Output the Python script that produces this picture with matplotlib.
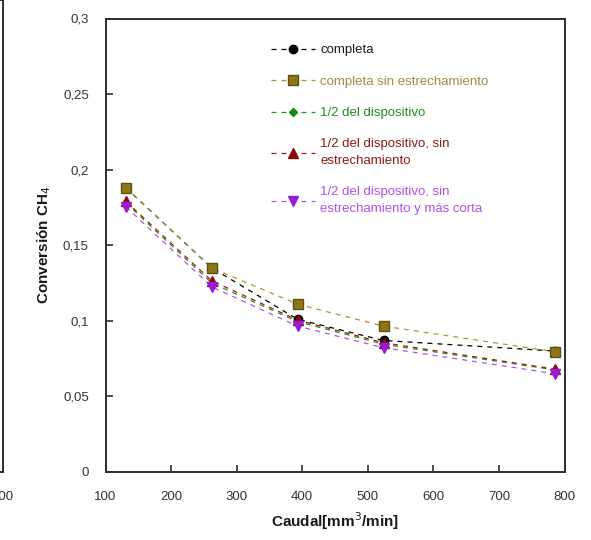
import numpy as np
import matplotlib.pyplot as plt
from matplotlib.ticker import FixedLocator

plt.rcParams['font.family'] = ['Liberation Sans', 'DejaVu Sans']

# Flow rates and CH4 conversion for each configuration
caudal = [131, 262, 393, 524, 786]
completa = [0.188, 0.135, 0.101, 0.087, 0.080]
completa_sin_estr = [0.188, 0.135, 0.111, 0.0965, 0.0795]
mitad = [0.178, 0.125, 0.0995, 0.0845, 0.0675]
mitad_sin_estr = [0.179, 0.1265, 0.1005, 0.0855, 0.068]
mitad_sin_estr_corta = [0.1755, 0.1225, 0.0965, 0.0822, 0.065]

series_labels = [
    'completa',
    'completa sin estrechamiento',
    '1/2 del dispositivo',
    '1/2 del dispositivo, sin\nestrechamiento',
    '1/2 del dispositivo, sin\nestrechamiento y más corta',
]

x_ticks = [100, 200, 300, 400, 500, 600, 700, 800]
y_ticks = [0, 0.05, 0.1, 0.15, 0.2, 0.25, 0.3]
y_tick_labels = ['0', '0,05', '0,1', '0,15', '0,2', '0,25', '0,3']

W, H = 591, 540
fig = plt.figure(figsize=(W / 100, H / 100), dpi=100)

ax_left_px, ax_right_px = 105.5, 564.5
ax_bottom_px, ax_top_px = 472, 18.5
bottom = (H - ax_bottom_px) / H
height = (ax_bottom_px - ax_top_px) / H
width = (ax_right_px - ax_left_px) / W

spine_color = '#2e2e2e'
text_color = '#333333'


def style_axes(a):
    a.set_xlim(100, 800)
    a.set_ylim(0, 0.3)
    a.xaxis.set_major_locator(FixedLocator(x_ticks))
    a.set_xticklabels([str(t) for t in x_ticks])
    a.yaxis.set_major_locator(FixedLocator(y_ticks))
    a.set_yticklabels(y_tick_labels)
    a.tick_params(direction='in', length=5, width=1.2, color=spine_color,
                  labelsize=9.5, labelcolor=text_color)
    a.tick_params(axis='y', pad=12)
    a.tick_params(axis='x', pad=14)
    for s in a.spines.values():
        s.set_color(spine_color)
        s.set_linewidth(1.4)


# neighbouring panel, only its right edge falls inside the figure
ax_prev = fig.add_axes([2.5 / W - width, bottom, width, 1 - bottom])
style_axes(ax_prev)
ax_prev.set_yticklabels([])
ax_prev.set_xticklabels([''] * (len(x_ticks) - 1) + ['800'])

ax = fig.add_axes([ax_left_px / W, bottom, width, height])
style_axes(ax)

styles = [
    dict(color='black', marker='o', mfc='black', mec='black', ms=6),
    dict(color='#a89440', marker='s', mfc='#8a7718', mec='#5e5010', ms=7),
    dict(color='#1a9a1a', marker='D', mfc='#138a13', mec='#138a13', ms=4.5),
    dict(color='#a01818', marker='^', mfc='#8b0a0a', mec='#8b0a0a', ms=7),
    dict(color='#b84ef0', marker='v', mfc='#9a1ad6', mec='#9a1ad6', ms=7),
]
text_colors = ['#1a1a1a', '#a08c3c', '#1f8f1f', '#8b1a1a', '#b450e6']

all_series = [completa, completa_sin_estr, mitad, mitad_sin_estr, mitad_sin_estr_corta]
for vals, lab, st in zip(all_series, series_labels, styles):
    ax.plot(caudal, vals, linestyle=(0, (4, 4)), linewidth=0.9, label=lab, **st)

leg = ax.legend(loc='upper left', bbox_to_anchor=(0.35, 0.955), frameon=False,
                fontsize=9.5, handlelength=3.3, handletextpad=0.4,
                labelspacing=1.45, borderaxespad=0)
for t, c in zip(leg.get_texts(), text_colors):
    t.set_color(c)
    t.set_linespacing(1.55)

ax.set_ylabel('Conversión CH$_4$', fontsize=11, fontweight='bold',
              color='#1a1a1a', labelpad=7)
ax.set_xlabel('Caudal[mm$^3$/min]', fontsize=11, fontweight='bold',
              color='#1a1a1a', labelpad=5)

fig.savefig('out.png', dpi=100)
